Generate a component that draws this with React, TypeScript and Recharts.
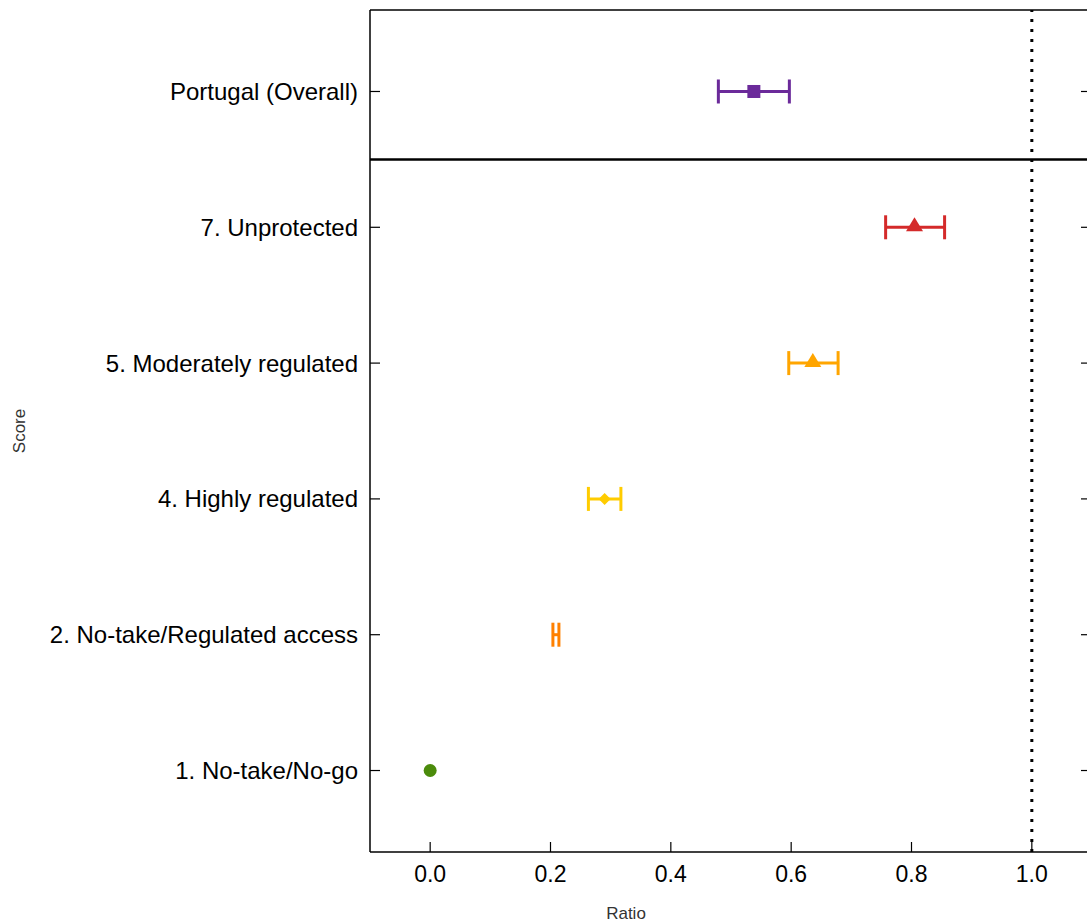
import React from 'react';
import { ScatterChart, Scatter, XAxis, YAxis, ErrorBar, ReferenceLine } from 'recharts';

// bottom to top
const categories = [
  '1. No-take/No-go',
  '2. No-take/Regulated access',
  '4. Highly regulated',
  '5. Moderately regulated',
  '7. Unprotected',
  'Portugal (Overall)',
];
const ratios = [0.0, 0.209, 0.29, 0.636, 0.805, 0.538];
const lower = [0.0, 0.204, 0.263, 0.596, 0.757, 0.479];
const upper = [0.0, 0.214, 0.317, 0.678, 0.855, 0.597];
const colors = ['#4b8b0b', '#ff8000', '#ffcc00', '#ffa500', '#d42a2a', '#6b2a9a'];
const shapes = ['circle', 'none', 'diamond', 'triangle', 'triangle', 'square'];
const xTicks = [0, 0.2, 0.4, 0.6, 0.8, 1.0];
const yTicks = [0, 1, 2, 3, 4, 5];

const font = '"Liberation Sans", Arial, sans-serif';

function marker(kind: string, color: string) {
  return (p: any) => {
    const { cx, cy } = p;
    if (kind === 'circle') return <circle cx={cx} cy={cy} r={6.5} fill={color} />;
    if (kind === 'square') return <rect x={cx - 6.5} y={cy - 6.5} width={13} height={13} fill={color} />;
    if (kind === 'diamond')
      return <polygon points={`${cx},${cy - 6} ${cx + 6},${cy} ${cx},${cy + 6} ${cx - 6},${cy}`} fill={color} />;
    if (kind === 'triangle')
      return <polygon points={`${cx},${cy - 10} ${cx + 8.5},${cy + 4} ${cx - 8.5},${cy + 4}`} fill={color} />;
    return <g />;
  };
}

export default function App() {
  const series = categories.map((name, i) => ({
    name,
    color: colors[i],
    shape: shapes[i],
    hasErr: upper[i] > lower[i],
    data: [{ x: ratios[i], y: i, err: [ratios[i] - lower[i], upper[i] - ratios[i]] }],
  }));

  return (
    <div style={{ position: 'absolute', left: 0, top: 0, width: 1087, height: 923, overflow: 'hidden', background: '#fff' }}>
      <ScatterChart width={1110} height={923} margin={{ top: 10, right: 17, bottom: 0, left: 0 }}>
        <XAxis
          type="number"
          dataKey="x"
          domain={[-0.1, 1.1]}
          ticks={xTicks}
          height={71}
          allowDataOverflow
          tickFormatter={(v: number) => v.toFixed(1)}
          tickSize={-10}
          tickMargin={24}
          axisLine={{ stroke: '#000', strokeWidth: 1.5 }}
          tickLine={{ stroke: '#000', strokeWidth: 1.2 }}
          tick={{ fill: '#000', fontSize: 23, fontFamily: font }}
          label={{ value: 'Ratio', position: 'insideBottom', offset: 4, dx: -105, style: { fontSize: 17, fontFamily: font, fill: '#333' } }}
        />
        <YAxis
          type="number"
          dataKey="y"
          domain={[-0.6, 5.6]}
          ticks={yTicks}
          width={370}
          allowDataOverflow
          tickFormatter={(v: number) => categories[v] ?? ''}
          tickSize={-10}
          tickMargin={22}
          axisLine={{ stroke: '#000', strokeWidth: 1.5 }}
          tickLine={{ stroke: '#000', strokeWidth: 1.2 }}
          tick={{ fill: '#000', fontSize: 24, fontFamily: font }}
          label={{ value: 'Score', angle: -90, position: 'insideLeft', offset: 19, style: { fontSize: 17, fontFamily: font, fill: '#333', textAnchor: 'middle' } }}
        />
        <YAxis
          yAxisId="right"
          orientation="right"
          type="number"
          dataKey="y"
          domain={[-0.6, 5.6]}
          ticks={yTicks}
          width={1}
          allowDataOverflow
          tick={() => <g />}
          tickSize={-11}
          axisLine={{ stroke: '#000', strokeWidth: 1.5 }}
          tickLine={{ stroke: '#000', strokeWidth: 1.2 }}
        />
        <ReferenceLine y={5.6} stroke="#000" strokeWidth={1.5} />
        <ReferenceLine y={4.5} stroke="#000" strokeWidth={2.5} />
        <ReferenceLine x={1} stroke="#000" strokeWidth={3} strokeDasharray="3 7" />
        {series.map((s) => (
          <Scatter
            key={s.name}
            name={s.name}
            data={s.data}
            fill={s.color}
            shape={marker(s.shape, s.color)}
            isAnimationActive={false}
          >
            {s.hasErr && <ErrorBar dataKey="err" direction="x" width={12} strokeWidth={3} stroke={s.color} />}
          </Scatter>
        ))}
        <Scatter yAxisId="right" data={series[5].data} shape={() => <g />} isAnimationActive={false} />
      </ScatterChart>
    </div>
  );
}
